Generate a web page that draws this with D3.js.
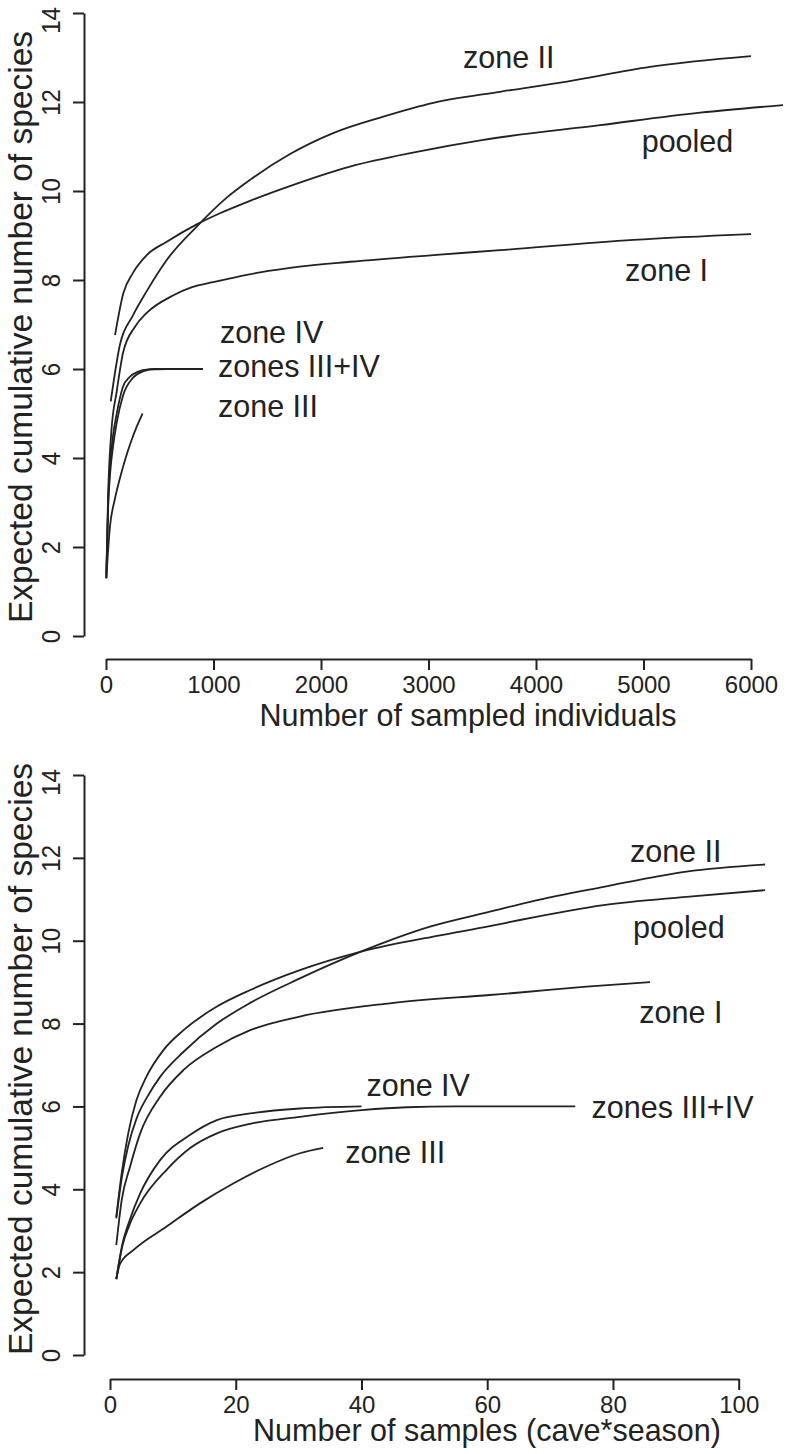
<!DOCTYPE html>
<html>
<head>
<meta charset="utf-8">
<script src="https://cdn.jsdelivr.net/npm/d3@7"></script>
<style>
  html, body { margin: 0; padding: 0; background: #fff; }
  svg { display: block; }
  text { font-family: "Liberation Sans", Arial, Helvetica, sans-serif; fill: #222; }
</style>
</head>
<body>
<svg id="chart" width="791" height="1454"></svg>
<script>
// ---------- DATA ----------
// Top panel: expected species vs number of sampled individuals
const topXTicks = [0, 1000, 2000, 3000, 4000, 5000, 6000];
const yTicks = [0, 2, 4, 6, 8, 10, 12, 14];

const indivZoneII = [[44,5.27],[130,6.55],[250,7.2],[379,7.75],[565,8.45],[844,9.2],[1123,9.85],[1340,10.25],[1712,10.83],[2113,11.3],[2580,11.67],[3045,11.98],[3665,12.23],[4288,12.46],[5060,12.79],[6000,13.03]];
const indivPooled = [[84,6.76],[161,7.7],[251,8.16],[379,8.56],[565,8.86],[844,9.25],[1060,9.5],[1340,9.78],[1650,10.06],[2270,10.55],[2890,10.88],[3510,11.15],[4595,11.48],[5526,11.76],[6298,11.93]];
const indivZoneI = [[3,1.4],[20,3.2],[50,4.6],[100,5.5],[130,5.98],[158,6.36],[270,6.95],[379,7.26],[623,7.65],[800,7.84],[995,7.95],[1181,8.05],[1432,8.17],[1800,8.3],[2270,8.41],[3045,8.56],[3665,8.67],[4905,8.9],[6000,9.03]];
const indivZoneIV = [[3,1.3],[20,3.0],[40,3.9],[65,4.5],[100,5.0],[158,5.6],[220,5.82],[288,5.93],[400,5.99],[565,6.0]];
const indivZonesIIIIV = [[3,1.3],[20,2.9],[40,3.7],[65,4.25],[100,4.8],[158,5.4],[250,5.8],[350,5.95],[450,6.0],[902,6.0]];
const indivZoneIII = [[3,1.3],[37,2.46],[80,3.05],[130,3.55],[180,3.98],[230,4.35],[285,4.7],[340,5.0]];

// Bottom panel: expected species vs number of samples (cave*season)
const botXTicks = [0, 20, 40, 60, 80, 100];
const sampZoneII = [[1,3.3],[1.9,4.3],[2.9,5.05],[4.2,5.7],[6,6.25],[8,6.72],[11.7,7.32],[17,8.0],[22.3,8.5],[30.2,9.09],[39.8,9.73],[50.9,10.34],[60.4,10.7],[66.8,10.94],[78.5,11.3],[91.7,11.67],[104.2,11.84]];
const sampPooled = [[1,3.34],[1.86,4.39],[2.9,5.35],[4.2,6.15],[5.8,6.72],[8.5,7.36],[11.7,7.84],[17,8.41],[22.3,8.81],[30.2,9.29],[39.8,9.73],[52.5,10.13],[60.4,10.35],[65.2,10.5],[78.5,10.86],[91.7,11.06],[104.2,11.22]];
const sampZoneI = [[1,2.65],[1.86,3.74],[3.2,4.55],[4.8,5.35],[8,6.24],[11.7,6.88],[17,7.44],[22.3,7.84],[30.2,8.17],[44.5,8.49],[60.4,8.69],[65.2,8.75],[75.8,8.89],[85.9,9.0]];
const sampZoneIV = [[1,1.83],[2,2.7],[3,3.2],[4.8,3.9],[8,4.71],[12.7,5.31],[17,5.67],[22.3,5.83],[30.2,5.95],[40,6.0]];
const sampZonesIIIIV = [[1,1.83],[2,2.65],[3,3.1],[4.8,3.66],[9,4.47],[12.7,4.99],[17,5.35],[22.3,5.58],[30.2,5.75],[40,5.91],[47.2,5.98],[55,6.0],[74,6.0]];
const sampZoneIII = [[1,1.83],[1.6,2.2],[3.7,2.53],[9,3.1],[14.3,3.66],[19.6,4.14],[24.9,4.55],[30.2,4.87],[33.9,5.0]];

// Curve labels (anchored in data units: x, y of text start/baseline)
const topLabels = [
  {text: "zone II", x: 3321, y: 12.76},
  {text: "pooled", x: 4983, y: 10.88},
  {text: "zone I", x: 4828, y: 7.98},
  {text: "zone IV", x: 1060, y: 6.58},
  {text: "zones III+IV", x: 1042, y: 5.83},
  {text: "zone III", x: 1042, y: 4.93}
];
const botLabels = [
  {text: "zone II", x: 82.7, y: 11.89},
  {text: "pooled", x: 83.2, y: 10.06},
  {text: "zone I", x: 84.2, y: 8.01},
  {text: "zone IV", x: 40.8, y: 6.25},
  {text: "zones III+IV", x: 76.6, y: 5.71},
  {text: "zone III", x: 37.4, y: 4.63}
];

const yTitle = "Expected cumulative number of species";
const topXTitle = "Number of sampled individuals";
const botXTitle = "Number of samples (cave*season)";

// ---------- DRAWING ----------
const svg = d3.select("#chart");
const INK = "#222";

function panel(cfg) {
  const x = d3.scaleLinear().domain(cfg.xDomain).range(cfg.xRange);
  const y = d3.scaleLinear().domain([0, 14]).range(cfg.yRange);
  const g = svg.append("g");

  // y axis (R style, detached)
  const ya = g.append("g").attr("transform", `translate(${cfg.yAxisX},0)`)
    .call(d3.axisLeft(y).tickValues(yTicks).tickSize(11).tickSizeOuter(0).tickFormat(d3.format("d")));
  ya.select(".domain").attr("stroke", INK).attr("stroke-width", 2);
  ya.selectAll(".tick line").attr("stroke", INK).attr("stroke-width", 2);
  ya.selectAll(".tick text")
    .attr("x", d => d === 14 ? -7 : 0).attr("y", 0).attr("dy", null)
    .attr("text-anchor", "middle")
    .attr("transform", "translate(-24,0) rotate(-90) scale(1,1.1)")
    .style("font-size", "24px").style("font-family", "'Liberation Sans', Arial, sans-serif").attr("fill", INK);

  // x axis
  const xa = g.append("g").attr("transform", `translate(0,${cfg.xAxisY})`)
    .call(d3.axisBottom(x).tickValues(cfg.xTicks).tickSize(11).tickSizeOuter(0).tickPadding(6).tickFormat(d3.format("d")));
  xa.select(".domain").attr("stroke", INK).attr("stroke-width", 2);
  xa.selectAll(".tick line").attr("stroke", INK).attr("stroke-width", 2);
  xa.selectAll(".tick text").style("font-size", "24px")
    .style("font-family", "'Liberation Sans', Arial, sans-serif").attr("fill", INK);

  // curves
  const line = d3.line().x(d => x(d[0])).y(d => y(d[1])).curve(d3.curveMonotoneX);
  cfg.series.forEach(s => {
    g.append("path").datum(s).attr("d", line)
      .attr("fill", "none").attr("stroke", INK).attr("stroke-width", 1.8)
      .attr("stroke-linejoin", "round");
  });

  // labels
  g.selectAll(".lbl").data(cfg.labels).join("text")
    .attr("class", "lbl")
    .attr("x", d => x(d.x)).attr("y", d => y(d.y))
    .style("font-size", "30.5px").text(d => d.text);

  // axis titles
  g.append("text").attr("x", cfg.xTitleX).attr("y", cfg.xTitleY)
    .attr("text-anchor", "middle").style("font-size", "30.5px").text(cfg.xTitle);
  g.append("text").attr("transform", `translate(32,${cfg.yTitleY}) rotate(-90)`)
    .attr("text-anchor", "middle").style("font-size", "33.5px").text(yTitle);
}

panel({
  xDomain: [0, 6000], xRange: [106, 751], yRange: [636, 13],
  yAxisX: 84, xAxisY: 659, xTicks: topXTicks,
  series: [indivZoneII, indivPooled, indivZoneI, indivZoneIV, indivZonesIIIIV, indivZoneIII],
  labels: topLabels,
  xTitle: topXTitle, xTitleX: 468, xTitleY: 726, yTitleY: 327
});

panel({
  xDomain: [0, 100], xRange: [110, 738.7], yRange: [1355, 775],
  yAxisX: 84, xAxisY: 1379, xTicks: botXTicks,
  series: [sampZoneII, sampPooled, sampZoneI, sampZoneIV, sampZonesIIIIV, sampZoneIII],
  labels: botLabels,
  xTitle: botXTitle, xTitleX: 487, xTitleY: 1441, yTitleY: 1059
});
</script>
</body>
</html>
